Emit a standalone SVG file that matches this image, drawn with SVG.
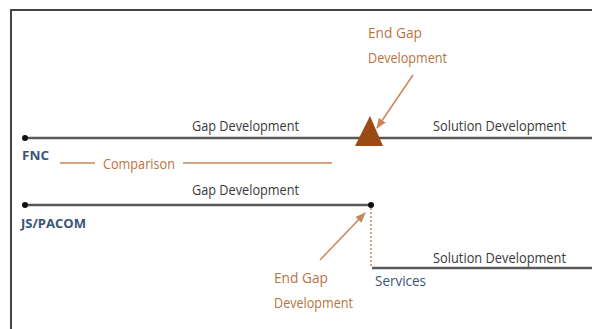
<svg xmlns="http://www.w3.org/2000/svg" width="592" height="329" viewBox="0 0 592 329">
<defs>
<style>
.t{font-family:"Open Sans","Liberation Sans",sans-serif;font-size:15px;fill:#3a3a3a}
.o{font-family:"Open Sans","Liberation Sans",sans-serif;font-size:15px;fill:#b8743f}
.b{font-family:"Open Sans","Liberation Sans",sans-serif;font-size:13px;font-weight:bold;fill:#3a5577}
.bs{font-family:"Open Sans","Liberation Sans",sans-serif;font-size:15px;fill:#3a5577}
.ln{stroke:#5a5a5a;stroke-width:2.5;fill:none}
.tan{stroke:#c8875a;stroke-width:1.5;fill:none}
</style>
<marker id="ah" viewBox="0 0 10 10" refX="9" refY="5" markerWidth="7" markerHeight="7" orient="auto">
<path d="M0,1 L10,5 L0,9 z" fill="#c8875a"/>
</marker>
</defs>
<rect width="592" height="329" fill="#fff"/>
<g id="frame">
<path d="M11,329 V10 H592" stroke="#444" stroke-width="2" fill="none"/>
</g>
<g id="connectors">
<line class="ln" x1="25" y1="138" x2="592" y2="138"/>
<line class="ln" x1="25" y1="205" x2="371" y2="205"/>
<line class="ln" x1="372" y1="268" x2="592" y2="268"/>
<line x1="371" y1="208" x2="371" y2="268" stroke="#c8875a" stroke-width="1.5" stroke-dasharray="2,2"/>
<line class="tan" x1="60" y1="163" x2="95" y2="163"/>
<line class="tan" x1="183" y1="163" x2="332" y2="163"/>
<line class="tan" x1="413" y1="75" x2="377" y2="128" marker-end="url(#ah)"/>
<line class="tan" x1="320" y1="260" x2="365" y2="213" marker-end="url(#ah)"/>
</g>
<g id="fnc">
<circle cx="25" cy="138" r="3" fill="#111"/>
<text class="b" x="22" y="160" textLength="27" lengthAdjust="spacingAndGlyphs">FNC</text>
<text class="t" x="192" y="131" textLength="107" lengthAdjust="spacingAndGlyphs">Gap Development</text>
<text class="t" x="433" y="131" textLength="133" lengthAdjust="spacingAndGlyphs">Solution Development</text>
</g>
<g id="end-gap-1">
<polygon points="370,116 355,146 383,146" fill="#9c4a14"/>
<text class="o" x="368" y="38" textLength="54" lengthAdjust="spacingAndGlyphs">End Gap</text>
<text class="o" x="368" y="63" textLength="79" lengthAdjust="spacingAndGlyphs">Development</text>
</g>
<g id="comparison">
<text class="o" x="103" y="169" textLength="72" lengthAdjust="spacingAndGlyphs">Comparison</text>
</g>
<g id="jspacom">
<circle cx="25" cy="205" r="3" fill="#111"/>
<circle cx="371" cy="205" r="3" fill="#111"/>
<text class="b" x="21" y="228" textLength="65" lengthAdjust="spacingAndGlyphs">JS/PACOM</text>
<text class="t" x="192" y="195" textLength="107" lengthAdjust="spacingAndGlyphs">Gap Development</text>
</g>
<g id="end-gap-2">
<text class="o" x="274" y="283" textLength="54" lengthAdjust="spacingAndGlyphs">End Gap</text>
<text class="o" x="274" y="308" textLength="79" lengthAdjust="spacingAndGlyphs">Development</text>
</g>
<g id="services">
<text class="bs" x="375" y="286" textLength="51" lengthAdjust="spacingAndGlyphs">Services</text>
<text class="t" x="433" y="263" textLength="133" lengthAdjust="spacingAndGlyphs">Solution Development</text>
</g>
</svg>
